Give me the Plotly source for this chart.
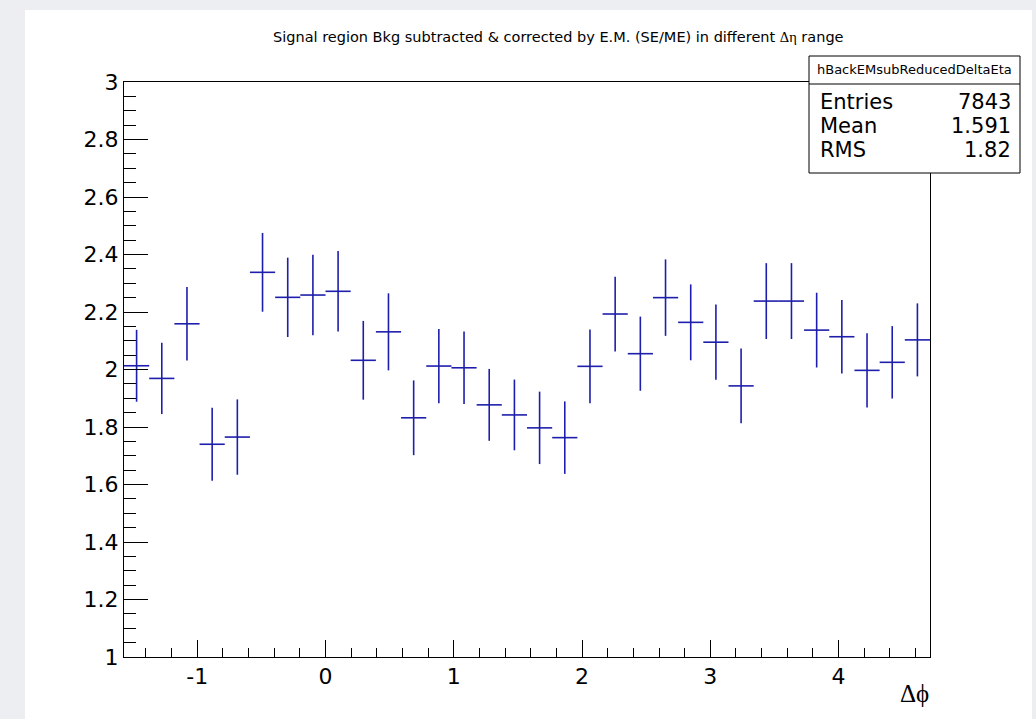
import numpy as np
import plotly.graph_objects as go

# Histogram content: 32 bins over [-pi/2, 3pi/2]
n_bins = 32
x_lo, x_hi = -np.pi / 2, 3 * np.pi / 2
counts = [2.013, 1.969, 2.159, 1.740, 1.765, 2.338, 2.251, 2.259,
          2.272, 2.032, 2.131, 1.832, 2.012, 2.006, 1.877, 1.842,
          1.797, 1.763, 2.011, 2.193, 2.055, 2.250, 2.164, 2.095,
          1.943, 2.238, 2.238, 2.137, 2.114, 1.997, 2.025, 2.103]
errors = [0.125, 0.124, 0.128, 0.127, 0.131, 0.137, 0.138, 0.140,
          0.140, 0.137, 0.134, 0.130, 0.129, 0.126, 0.125, 0.123,
          0.126, 0.126, 0.128, 0.130, 0.129, 0.133, 0.132, 0.131,
          0.130, 0.132, 0.132, 0.130, 0.128, 0.129, 0.126, 0.127]

x_tick_vals = [-1, 0, 1, 2, 3, 4]
x_tick_text = ["-1", "0", "1", "2", "3", "4"]
y_tick_vals = [1, 1.2, 1.4, 1.6, 1.8, 2, 2.2, 2.4, 2.6, 2.8, 3]
y_tick_text = ["1", "1.2", "1.4", "1.6", "1.8", "2", "2.2", "2.4", "2.6", "2.8", "3"]

stats_name = "hBackEMsubReducedDeltaEta"
stats_labels = ["Entries", "Mean", "RMS"]
stats_values = ["7843", "1.591", "1.82"]

title_text = ("Signal region Bkg subtracted & corrected by E.M. (SE/ME) in different "
              "<span style='font-family:Liberation Serif'>Δη</span> range")
x_title = "Δϕ"

bin_w = (x_hi - x_lo) / n_bins
centers = x_lo + (np.arange(n_bins) + 0.5) * bin_w

W, H = 1036, 719
ml, mr, mt, mb = 124, 106, 82, 62
pw, ph = W - ml - mr, H - mt - mb


def px(x):
    return (x - ml) / pw


def py(y):
    return (H - mb - y) / ph


blue = "rgb(30,30,172)"
sans = "DejaVu Sans"

fig = go.Figure()
fig.add_trace(go.Scatter(
    x=centers, y=counts, mode="markers",
    marker=dict(size=1, color="rgba(0,0,0,0)", line=dict(width=0)),
    error_x=dict(type="constant", value=bin_w / 2, width=0, color=blue, thickness=1.6),
    error_y=dict(type="data", array=errors, width=0, color=blue, thickness=1.6),
    showlegend=False, hoverinfo="skip",
))

shapes = [
    # white canvas
    dict(type="rect", xref="paper", yref="paper", layer="below",
         x0=px(25), x1=px(1032), y0=py(760), y1=py(10),
         fillcolor="white", line=dict(width=0)),
    # stats box
    dict(type="rect", xref="paper", yref="paper", layer="above",
         x0=px(809), x1=px(1020), y0=py(173), y1=py(56),
         fillcolor="white", line=dict(color="black", width=1)),
    dict(type="line", xref="paper", yref="paper", layer="above",
         x0=px(809), x1=px(1020), y0=py(84), y1=py(84),
         line=dict(color="black", width=1)),
]

annotations = [
    dict(text=title_text, xref="paper", yref="paper", x=px(558), y=py(37),
         showarrow=False, xanchor="center", yanchor="middle",
         font=dict(family=sans, size=14.5, color="black")),
    dict(text=x_title, xref="paper", yref="paper", x=px(931), y=py(693),
         showarrow=False, xanchor="right", yanchor="middle",
         font=dict(family="Liberation Serif", size=25, color="black")),
    dict(text=stats_name, xref="paper", yref="paper", x=px(914.5), y=py(70),
         showarrow=False, xanchor="center", yanchor="middle",
         font=dict(family=sans, size=13, color="black")),
]
row_y = [102, 126, 150]
for lab, val, yy in zip(stats_labels, stats_values, row_y):
    annotations.append(dict(text=lab, xref="paper", yref="paper", x=px(818), y=py(yy),
                            showarrow=False, xanchor="left", yanchor="middle",
                            font=dict(family=sans, size=21, color="black")))
    annotations.append(dict(text=val, xref="paper", yref="paper", x=px(1013), y=py(yy),
                            showarrow=False, xanchor="right", yanchor="middle",
                            font=dict(family=sans, size=21, color="black")))

fig.update_layout(
    width=W, height=H,
    margin=dict(l=ml, r=mr, t=mt, b=mb, pad=0),
    paper_bgcolor="#eceef1", plot_bgcolor="white",
    shapes=shapes, annotations=annotations,
    xaxis=dict(range=[x_lo, x_hi], showgrid=False, zeroline=False,
               showline=True, mirror=True, linecolor="black", linewidth=1,
               ticks="inside", ticklen=17, tickcolor="black", tickwidth=1,
               tickmode="array", tickvals=x_tick_vals, ticktext=x_tick_text,
               minor=dict(ticks="inside", ticklen=9, tickcolor="black", tickwidth=1,
                          tick0=0, dtick=0.2, showgrid=False),
               tickfont=dict(family=sans, size=22, color="black")),
    yaxis=dict(range=[1, 3], showgrid=False, zeroline=False,
               showline=True, mirror=True, linecolor="black", linewidth=1,
               ticks="inside", ticklen=24, tickcolor="black", tickwidth=1,
               tickmode="array", tickvals=y_tick_vals, ticktext=y_tick_text,
               minor=dict(ticks="inside", ticklen=12, tickcolor="black", tickwidth=1,
                          tick0=1, dtick=0.05, showgrid=False),
               tickfont=dict(family=sans, size=22, color="black")),
)

fig.write_html("out.html")
